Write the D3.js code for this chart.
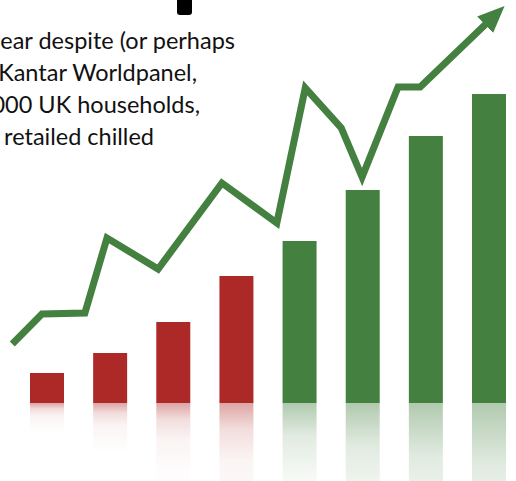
<!DOCTYPE html>
<html lang="en">
<head>
    <meta charset="UTF-8">
    <title>Chart</title>
    <script src="https://cdn.jsdelivr.net/npm/d3@7"></script>
    <style>
        body { margin: 0; background: #fff; }
        svg { display: block; }
    </style>
</head>
<body>
<svg width="516" height="481"></svg>

<script>

    // bar values (arbitrary units, one per year)
    var barValues = [30, 50, 81, 127, 162, 213, 267, 309];
    var barColors = ["#ad2927", "#ad2927", "#ad2927", "#ad2927", "#44803f", "#44803f", "#44803f", "#44803f"];

    // trend line, x in bar-index units, y in same units as bars
    var lineX = [-0.55, -0.08, 0.60, 0.95, 1.76, 2.77, 3.64, 4.09, 4.66, 4.99, 5.56, 5.91, 6.95];
    var lineY = [59, 89, 90, 165, 134, 220, 180, 315, 275, 226, 316, 316, 379];

    // text, cut off on the left in the original
    var textLines = ["ear despite (or perhaps", "Kantar Worldpanel,", "000 UK households,", "retailed chilled"];
    var textRight = [235, 197, 200, 154];

    var svg = d3.select("svg"),
        width = +svg.attr("width"),
        height = +svg.attr("height");

    var baseline = 403;

    var x = d3.scaleLinear().domain([0, 7]).range([47, 489]);
    var y = d3.scaleLinear().domain([0, 400]).range([baseline, baseline - 400]);
    var barW = 34;

    var defs = svg.append("defs");

    /* reflection gradients */
    ["red", "green"].forEach(function (k, i) {
        var c = i == 0 ? "#ad2927" : "#44803f";
        var g = defs.append("linearGradient")
            .attr("id", "fade-" + k)
            .attr("x1", 0).attr("y1", 0).attr("x2", 0).attr("y2", 1);
        g.append("stop").attr("offset", 0).attr("stop-color", c).attr("stop-opacity", 0.42);
        g.append("stop").attr("offset", 0.2).attr("stop-color", c).attr("stop-opacity", 0.16);
        g.append("stop").attr("offset", 0.45).attr("stop-color", c).attr("stop-opacity", 0.05);
        g.append("stop").attr("offset", 1).attr("stop-color", c).attr("stop-opacity", 0);
    });

    defs.append("marker")
        .attr("id", "arrow")
        .attr("markerUnits", "userSpaceOnUse")
        .attr("viewBox", "0 -12 27 24")
        .attr("refX", 1)
        .attr("refY", 0)
        .attr("markerWidth", 27)
        .attr("markerHeight", 24)
        .attr("orient", "auto")
        .append("path")
        .attr("d", "M0,-11.5L27,0L0,11.5Z")
        .attr("fill", "#44803f");

    // black tab at the top
    svg.append("path")
        .attr("d", "M177,-5H192V12Q192,15 189,15H180Q177,15 177,12Z")
        .attr("fill", "#000");

    // text block
    svg.append("g")
        .selectAll("text")
        .data(textLines)
        .enter().append("text")
        .attr("x", function (d, i) { return textRight[i]; })
        .attr("y", function (d, i) { return 49 + i * 32; })
        .attr("text-anchor", "end")
        .style("font-family", "Lato, 'Open Sans', sans-serif")
        .style("font-size", "23.5px")
        .style("fill", "#111")
        .text(function (d) { return d; });

    // reflections
    svg.append("g")
        .selectAll("rect")
        .data(barValues)
        .enter().append("rect")
        .attr("x", function (d, i) { return x(i) - barW / 2; })
        .attr("y", baseline)
        .attr("width", barW)
        .attr("height", function (d) { return baseline - y(d); })
        .attr("fill", function (d, i) { return i < 4 ? "url(#fade-red)" : "url(#fade-green)"; });

    // bars
    svg.append("g")
        .selectAll("rect")
        .data(barValues)
        .enter().append("rect")
        .attr("x", function (d, i) { return x(i) - barW / 2; })
        .attr("y", function (d) { return y(d); })
        .attr("width", barW)
        .attr("height", function (d) { return baseline - y(d); })
        .attr("fill", function (d, i) { return barColors[i]; });

    // trend line
    var line = d3.line()
        .x(function (d) { return x(d[0]); })
        .y(function (d) { return y(d[1]); });

    svg.append("path")
        .datum(d3.zip(lineX, lineY))
        .attr("d", line)
        .attr("fill", "none")
        .attr("stroke", "#44803f")
        .attr("stroke-width", 7)
        .attr("stroke-linejoin", "miter")
        .attr("marker-end", "url(#arrow)");

</script>

</body>
</html>
